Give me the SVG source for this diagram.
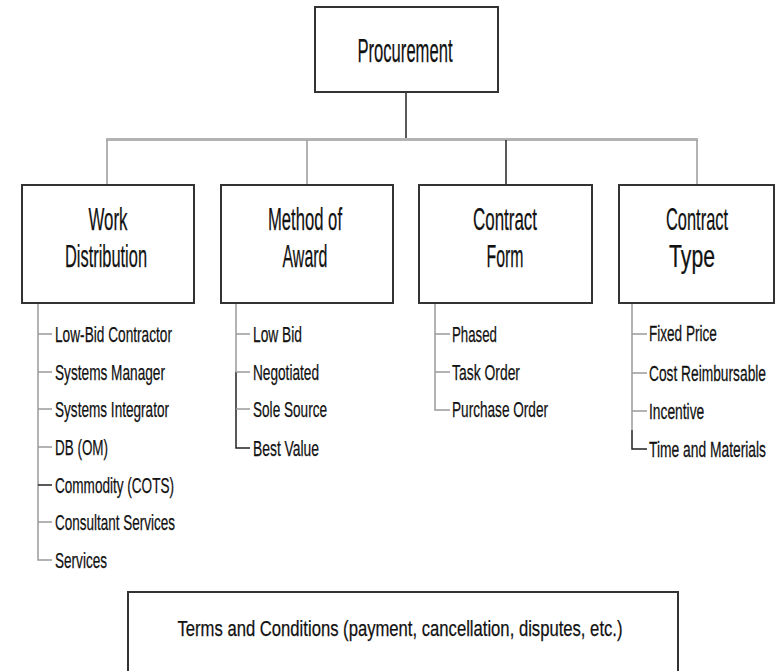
<svg xmlns="http://www.w3.org/2000/svg" width="780" height="671" viewBox="0 0 780 671">
<style>
.box{fill:#fff;stroke:#333;stroke-width:2}
.t{font-family:"Liberation Sans",Arial,sans-serif;fill:#111;stroke:#111;stroke-width:0.25}
.hd{font-size:32px;text-anchor:middle}
.it{font-size:22px}
.k{stroke:#222;stroke-width:1.5;fill:none}
.g{stroke:#9a9a9a;stroke-width:1.5;fill:none}
.bar{stroke:#b3b3b3;stroke-width:3;fill:none}
</style>
<rect width="780" height="671" fill="#fff"/>
<g id="connectors">
<line class="k" x1="406" y1="92" x2="406" y2="139"/>
<line class="bar" x1="106" y1="139.5" x2="698" y2="139.5"/>
<line class="g" x1="107" y1="140" x2="107" y2="185"/>
<line class="g" x1="307" y1="140" x2="307" y2="185"/>
<line class="k" x1="506" y1="140" x2="506" y2="185"/>
<line class="g" x1="697" y1="140" x2="697" y2="185"/>
<path class="g" d="M38 303V560H52"/>
<path class="g" d="M38 334H52M38 372H52M38 409H52M38 447H52M38 522H52"/>
<path class="k" d="M38 485H52"/>
<path class="g" d="M236 303V372"/>
<path class="k" d="M236 372V448H250"/>
<path class="g" d="M236 334H250M236 372H250M236 409H250"/>
<path class="g" d="M435 303V410H450M435 334H450M435 372H450"/>
<path class="g" d="M632 303V430"/>
<path class="k" d="M632 430V449H647"/>
<path class="g" d="M632 334H647M632 373H647M632 411H647"/>
</g>
<g id="procurement">
<rect class="box" x="315" y="7" width="183" height="85"/>
<text class="t" x="405" y="62" font-size="34" text-anchor="middle" textLength="95" lengthAdjust="spacingAndGlyphs">Procurement</text>
</g>
<g id="work-distribution">
<rect class="box" x="22" y="185" width="172" height="118"/>
<text class="t hd" x="108" y="230" textLength="39" lengthAdjust="spacingAndGlyphs">Work</text>
<text class="t hd" x="106" y="267" textLength="82" lengthAdjust="spacingAndGlyphs">Distribution</text>
</g>
<g id="method-of-award">
<rect class="box" x="221" y="185" width="172" height="118"/>
<text class="t hd" x="305" y="230" textLength="74" lengthAdjust="spacingAndGlyphs">Method of</text>
<text class="t hd" x="305" y="267" textLength="45" lengthAdjust="spacingAndGlyphs">Award</text>
</g>
<g id="contract-form">
<rect class="box" x="419" y="185" width="173" height="118"/>
<text class="t hd" x="505" y="230" textLength="64" lengthAdjust="spacingAndGlyphs">Contract</text>
<text class="t hd" x="505" y="267" textLength="37" lengthAdjust="spacingAndGlyphs">Form</text>
</g>
<g id="contract-type">
<rect class="box" x="619" y="185" width="155" height="118"/>
<g transform="translate(697 0) scale(0.5 1)">
<text class="t hd" x="0" y="230" textLength="124" lengthAdjust="spacingAndGlyphs">Contract</text>
<text class="t hd" x="-10" y="267" textLength="92" lengthAdjust="spacingAndGlyphs">Type</text>
</g>
</g>
<g id="work-items">
<text class="t it" x="55" y="342" textLength="117" lengthAdjust="spacingAndGlyphs">Low-Bid Contractor</text>
<text class="t it" x="55" y="380" textLength="110" lengthAdjust="spacingAndGlyphs">Systems Manager</text>
<text class="t it" x="55" y="417" textLength="114" lengthAdjust="spacingAndGlyphs">Systems Integrator</text>
<text class="t it" x="55" y="455" textLength="53" lengthAdjust="spacingAndGlyphs">DB (OM)</text>
<text class="t it" x="55" y="493" textLength="119" lengthAdjust="spacingAndGlyphs">Commodity (COTS)</text>
<text class="t it" x="55" y="530" textLength="120" lengthAdjust="spacingAndGlyphs">Consultant Services</text>
<text class="t it" x="55" y="568" textLength="52" lengthAdjust="spacingAndGlyphs">Services</text>
</g>
<g id="method-items">
<text class="t it" x="253" y="342" textLength="49" lengthAdjust="spacingAndGlyphs">Low Bid</text>
<text class="t it" x="253" y="380" textLength="66" lengthAdjust="spacingAndGlyphs">Negotiated</text>
<text class="t it" x="253" y="417" textLength="74" lengthAdjust="spacingAndGlyphs">Sole Source</text>
<text class="t it" x="253" y="456" textLength="66" lengthAdjust="spacingAndGlyphs">Best Value</text>
</g>
<g id="form-items">
<text class="t it" x="452" y="342" textLength="45" lengthAdjust="spacingAndGlyphs">Phased</text>
<text class="t it" x="452" y="380" textLength="68" lengthAdjust="spacingAndGlyphs">Task Order</text>
<text class="t it" x="452" y="417" textLength="96" lengthAdjust="spacingAndGlyphs">Purchase Order</text>
</g>
<g id="type-items" transform="translate(649 0) scale(0.6 1)">
<text class="t it" x="0" y="341" textLength="113" lengthAdjust="spacingAndGlyphs">Fixed Price</text>
<text class="t it" x="0" y="381" textLength="195" lengthAdjust="spacingAndGlyphs">Cost Reimbursable</text>
<text class="t it" x="0" y="419" textLength="92" lengthAdjust="spacingAndGlyphs">Incentive</text>
<text class="t it" x="0" y="457" textLength="195" lengthAdjust="spacingAndGlyphs">Time and Materials</text>
</g>
<g id="terms">
<rect class="box" x="128" y="592" width="550" height="100"/>
<text class="t" x="400" y="636" font-size="22" text-anchor="middle" textLength="445" lengthAdjust="spacingAndGlyphs">Terms and Conditions (payment, cancellation, disputes, etc.)</text>
</g>
</svg>
